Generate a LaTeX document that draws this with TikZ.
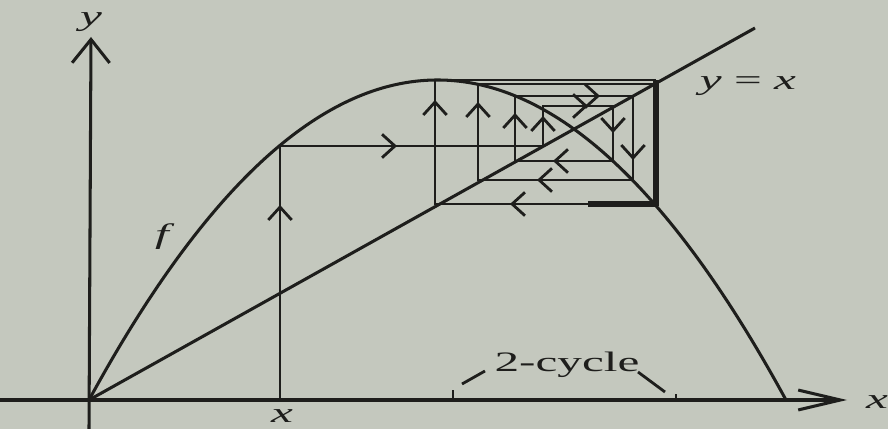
\documentclass[tikz,border=0pt]{standalone}
\usepackage{fontspec}
\setmainfont{Liberation Serif}
\usetikzlibrary{arrows.meta}
\definecolor{bg}{RGB}{196,200,190}
\definecolor{ink}{RGB}{30,30,28}
\tikzset{
  curve/.style={ink, line width=2.6pt},
  thinline/.style={ink, line width=2.4pt},
  chev/.style={ink, line width=2.4pt, -{Straight Barb[length=11pt,width=20pt]}},
  lbl/.style={ink, font=\fontsize{24}{28}\selectfont, inner sep=0pt},
}
\newcommand{\wide}[1]{\scalebox{1.75}[1]{#1}}
\begin{document}
\begin{tikzpicture}[x=0.03cm, y=-0.03cm]
\fill[bg] (0,0) rectangle (888,429);
\useasboundingbox (0,0) rectangle (888,429);

% axes
\coordinate (O) at (89,400);
\coordinate (xl) at (0,400);
\coordinate (xe) at (847,400);
\coordinate (yb) at (89,429);
\coordinate (ye) at (91,37);
\draw[curve, -{Straight Barb[length=36pt,width=17pt]}] (xl) -- (xe);
\draw[curve, -{Straight Barb[length=20pt,width=32pt]}] (yb) -- (ye);

% parabola f and diagonal y=x
\draw[curve] plot[domain=89:786, samples=140, smooth] (\x, {400-320*(1-((\x-437.5)/348.5)^2)});
\coordinate (dend) at (755,28);
\draw[curve] (O) -- (dend);

% cobweb
\draw[thinline] (280,400) -- (280,146) -- (543,146) -- (543,106) -- (613,106)
  -- (613,161) -- (515,161) -- (515,96) -- (633,96) -- (633,180) -- (478,180)
  -- (478,84) -- (654,84);
\draw[thinline] (656,204) -- (435,204) -- (435,80) -- (656,80);
% 2-cycle bold
\draw[ink, line width=5pt] (656,80) -- (656,206);
\draw[ink, line width=4.3pt] (588,204) -- (658,204);

% chevrons
\draw[chev] (280,222) -- (280,205);
\draw[chev] (370,146) -- (397,146);
\draw[chev] (543,134) -- (543,116);
\draw[chev] (568,106) -- (588,106);
\draw[chev] (613,114) -- (613,133);
\draw[chev] (573,161) -- (553,161);
\draw[chev] (515,131) -- (515,113);
\draw[chev] (580,96) -- (600,96);
\draw[chev] (633,140) -- (633,160);
\draw[chev] (557,180) -- (537,180);
\draw[chev] (478,120) -- (478,102);
\draw[chev] (530,204) -- (510,204);
\draw[chev] (435,118) -- (435,100);

% ticks and 2-cycle marks
\draw[thinline] (453,400) -- (453,390);
\draw[thinline] (676,400) -- (676,394);
\draw[thinline] (462,384) -- (485,371);
\draw[thinline] (638,372) -- (665,392);

% labels
\node[lbl] (ylab) at (91,22) {\wide{\itshape y}};
\node[lbl] (xlab) at (282,416) {\wide{\itshape x}};
\node[lbl] (xlab2) at (877,402) {\wide{\itshape x}};
\node[lbl] (yx) at (748,86) {\wide{\itshape y \upshape= \itshape x}};
\node[lbl] (flab) at (162,237) {\wide{\itshape f}};
\node[lbl] (cyc) at (567,365) {\wide{2-cycle}};
\end{tikzpicture}
\end{document}
